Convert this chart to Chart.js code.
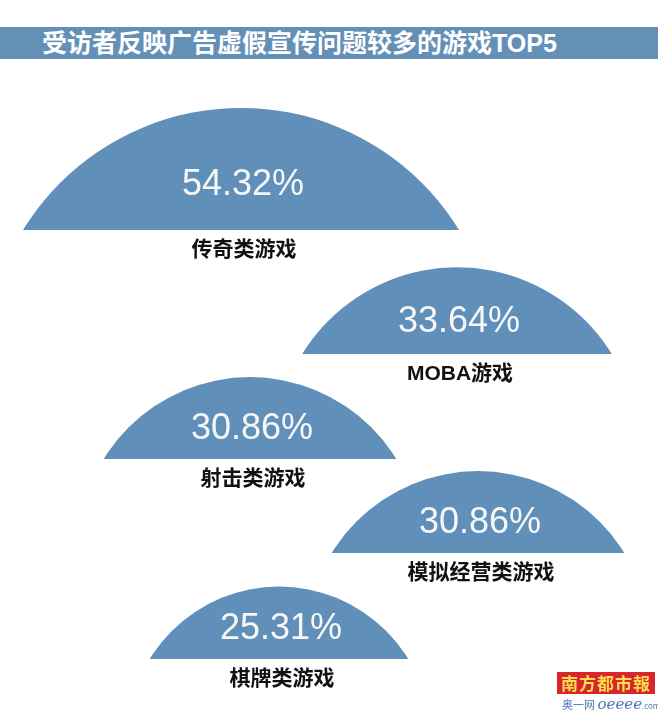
<!DOCTYPE html>
<html>
<head>
<meta charset="utf-8">
<script src="https://cdn.jsdelivr.net/npm/chart.js@4/dist/chart.umd.min.js"></script>
<style>
  body { margin: 0; background: #fff; }
  #wrap { position: relative; width: 658px; height: 713px; overflow: hidden; }
  #chart { position: absolute; left: 0; top: 0; }
  #title {
    position: absolute; left: 0; top: 27px; width: 658px; height: 32px;
    background: #6490b8; color: #fff;
    font: bold 25px "Liberation Sans", "Noto Sans CJK SC", sans-serif;
    line-height: 32px; padding-left: 42px; box-sizing: border-box;
  }
  #logo {
    position: absolute; left: 557px; top: 672px; width: 98px; height: 22px;
    background: #d8262e; color: #f6de4c; text-align: center;
    font: bold 17px "Noto Sans CJK SC", sans-serif; line-height: 22px; letter-spacing: 1px;
  }
  #site {
    position: absolute; left: 562px; top: 695px; color: #4a78b5;
    font: 11px "Noto Sans CJK SC", sans-serif; white-space: nowrap;
  }
  #site i { font: italic 15px "DejaVu Serif", serif; }
  #site small { font-size: 8px; }
</style>
</head>
<body>
<div id="wrap">
  <canvas id="chart" width="658" height="713"></canvas>
  <div id="title">受访者反映广告虚假宣传问题较多的游戏TOP5</div>
  <div id="logo">南方都市報</div>
  <div id="site">奥一网 <i>oeeee</i><small>.com</small></div>
</div>
<script>
// Data
const categories = ['传奇类游戏', 'MOBA游戏', '射击类游戏', '模拟经营类游戏', '棋牌类游戏'];
const shares = [54.32, 33.64, 30.86, 30.86, 25.31];

// Layout: where each dome sits (scale units = px)
const centerX = [241, 457, 250, 478, 279];
const baseY = [230, 354, 459, 553, 659];

const domeColor = '#608fba';
const halfAngle = 58.5 * Math.PI / 180;

// chord width grows with the share
function chordWidth(v) {
    return 104 + 6.11 * v;
}

const datasets = shares.map((v, i) => {
    const R = chordWidth(v) / 2 / Math.sin(halfAngle);
    return {
        label: categories[i],
        data: [{ x: centerX[i], y: baseY[i] + R * Math.cos(halfAngle), r: R }],
        backgroundColor: domeColor,
        borderWidth: 0,
        clip: { left: false, right: false, top: false, bottom: baseY[i] - 713 }
    };
});

// Percentages inside the domes, names under them
const domeLabels = {
    id: 'domeLabels',
    afterDatasetsDraw(chart) {
        const ctx = chart.ctx;
        const yScale = chart.scales.y;
        ctx.save();
        ctx.textAlign = 'center';
        ctx.textBaseline = 'middle';
        chart.data.datasets.forEach((ds, i) => {
            const el = chart.getDatasetMeta(i).data[0];
            const base = yScale.getPixelForValue(baseY[i]);
            const h = el.options.radius * (1 - Math.cos(halfAngle));
            ctx.fillStyle = '#f7f7f7';
            ctx.font = '36px "Liberation Sans", Arial, sans-serif';
            ctx.fillText(shares[i].toFixed(2) + '%', el.x + 2, base - Math.max(30, 0.37 * h));
            ctx.fillStyle = '#111';
            ctx.font = 'bold 21px "Liberation Sans", "Noto Sans CJK SC", sans-serif';
            ctx.fillText(categories[i], el.x + 3, base + 20);
        });
        ctx.restore();
    }
};

new Chart(document.getElementById('chart').getContext('2d'), {
    type: 'bubble',
    data: { datasets: datasets },
    options: {
        responsive: false,
        animation: false,
        layout: { padding: 0, autoPadding: false },
        plugins: { legend: { display: false }, tooltip: { enabled: false } },
        scales: {
            x: { type: 'linear', min: 0, max: 658, display: false },
            y: { type: 'linear', min: 0, max: 713, reverse: true, display: false }
        }
    },
    plugins: [domeLabels]
});
</script>
</body>
</html>
